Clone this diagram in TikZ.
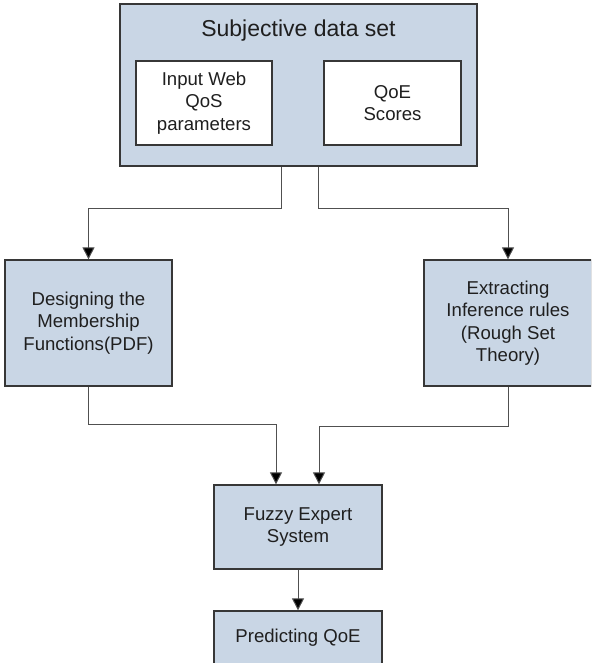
\documentclass[tikz,border=0pt]{standalone}
\usepackage{fontspec}
\setmainfont{Liberation Sans}
\usetikzlibrary{arrows.meta}
\definecolor{boxfill}{RGB}{201,214,229}
\definecolor{boxline}{RGB}{55,55,55}
\definecolor{conline}{RGB}{80,80,80}
\begin{document}
\begin{tikzpicture}[x=1pt,y=-1pt,
  bluebox/.style={draw=boxline,line width=1.3pt,fill=boxfill,rectangle,inner sep=0pt,align=center,
    font=\fontsize{18.6}{22.5}\selectfont,text=black!88},
  whitebox/.style={bluebox,fill=white},
  conn/.style={draw=conline,line width=1pt,-{Triangle[length=12pt,width=12pt,fill=black]}}]
\useasboundingbox (0,0) rectangle (591,663);
\clip (0,0) rectangle (591,663);
\fill[white] (0,0) rectangle (591,663);
% top box
\node[bluebox,minimum width=357pt,minimum height=162pt] (top) at (298.5,85) {};
\node[anchor=base,font=\fontsize{23}{27}\selectfont,text=black!88] (title) at (298.5,37) {Subjective data set};
\node[whitebox,minimum width=136pt,minimum height=84pt] (in1) at (204,103) {Input Web\\QoS\\parameters};
\node[whitebox,minimum width=137pt,minimum height=84pt] (in2) at (392.5,103) {QoE\\Scores};
% middle
\node[bluebox,minimum width=167pt,minimum height=126pt] (left) at (88.5,323) {Designing the\\Membership\\Functions(PDF)};
\node[bluebox,minimum width=168pt,minimum height=126pt] (right) at (508,323) {Extracting\\Inference rules\\(Rough Set\\Theory)};
% bottom
\node[bluebox,minimum width=168pt,minimum height=84pt] (fuzzy) at (298,527) {Fuzzy Expert\\System};
\node[bluebox,minimum width=168pt,minimum height=54pt] (pred) at (298,638) {Predicting QoE};
% connectors
\draw[conn] ([xshift=-17.5pt]top.south) -- ++(0,42) -| (left.north);
\draw[conn] ([xshift=19.5pt]top.south) -- ++(0,42) -| (right.north);
\draw[conn] (left.south) -- ++(0,38) -| ([xshift=-22pt]fuzzy.north);
\draw[conn] (right.south) -- ++(0,40) -| ([xshift=21pt]fuzzy.north);
\draw[conn] (fuzzy.south) -- (pred.north);
\end{tikzpicture}
\end{document}
